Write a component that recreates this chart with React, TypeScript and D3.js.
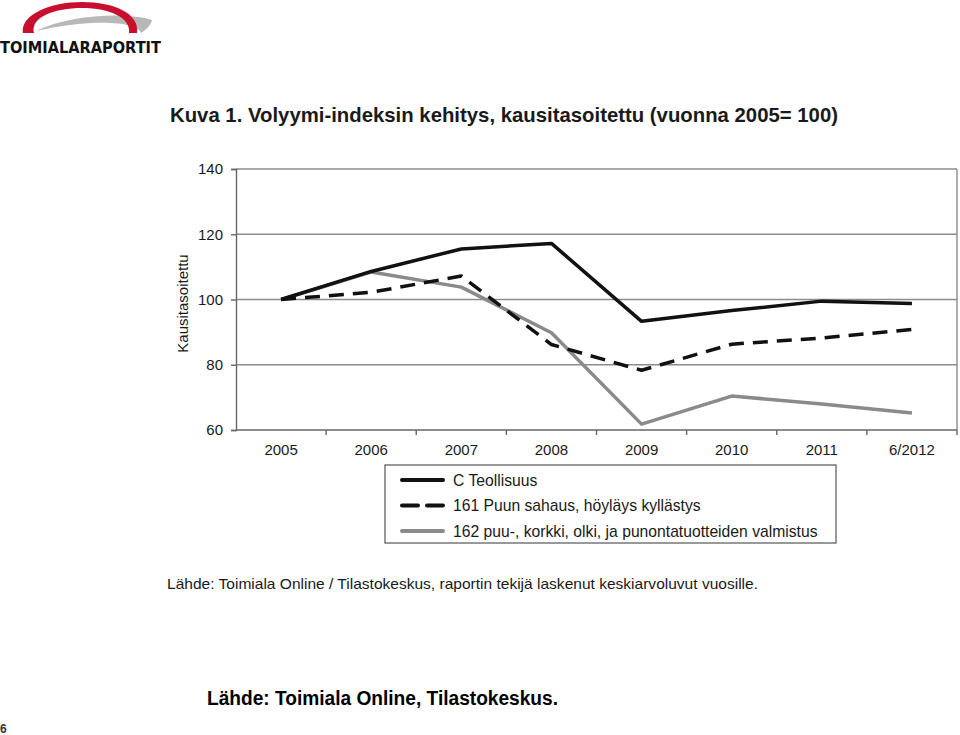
import { useRef, useEffect } from 'react'
import * as d3 from 'd3'

const years = ['2005', '2006', '2007', '2008', '2009', '2010', '2011', '6/2012']
const teollisuus = [100, 108.6, 115.5, 117.2, 93.3, 96.6, 99.5, 98.8]
const sahaus = [100, 102.2, 107.2, 86.2, 78.3, 86.3, 88.2, 90.8]
const puutuotteet = [100, 108.4, 103.8, 89.8, 61.8, 70.4, 68.0, 65.2]
const yTicks = [60, 80, 100, 120, 140]

const seriesNames = [
  'C Teollisuus',
  '161 Puun sahaus, höyläys kyllästys',
  '162 puu-, korkki, olki, ja punontatuotteiden valmistus',
]

const font = 'Arial, "Liberation Sans", sans-serif'

export default function App() {
  const ref = useRef<SVGSVGElement>(null)

  useEffect(() => {
    if (!ref.current) return
    const svg = d3.select(ref.current)
    svg.selectAll('*').remove()

    const plot = { left: 236, right: 957, top: 169, bottom: 430 }

    const x = d3.scaleBand().domain(years).range([plot.left, plot.right])
    const y = d3.scaleLinear().domain([60, 140]).range([plot.bottom, plot.top])

    // Logo
    const logo = svg.append('g')
    logo
      .append('path')
      .attr('d', 'M36,31 C70,14 128,12 152,20 C151,25 147,29 141,33 C138,22 95,18 36,31 Z')
      .attr('fill', '#b8b8b8')
    logo
      .append('path')
      .attr(
        'd',
        'M23,33 C20,15 50,2 82,2 C115,2 140,14 137,33 L129,33 C131,18 110,8 82,8 C55,8 30,17 34,33 Z'
      )
      .attr('fill', '#c8102e')
    logo
      .append('text')
      .attr('x', 0)
      .attr('y', 53)
      .attr('font-family', '"DejaVu Sans", sans-serif')
      .attr('font-weight', 'bold')
      .attr('font-size', 15)
      .attr('textLength', 161)
      .attr('lengthAdjust', 'spacingAndGlyphs')
      .attr('fill', '#111')
      .text('TOIMIALARAPORTIT')

    // Title
    svg
      .append('text')
      .attr('x', 170)
      .attr('y', 122)
      .attr('font-family', font)
      .attr('font-weight', 'bold')
      .attr('font-size', 21)
      .attr('textLength', 668)
      .attr('lengthAdjust', 'spacingAndGlyphs')
      .attr('fill', '#1a1a1a')
      .text('Kuva 1. Volyymi-indeksin kehitys, kausitasoitettu (vuonna 2005= 100)')

    // Gridlines
    svg
      .append('g')
      .selectAll('line')
      .data(yTicks.slice(1))
      .join('line')
      .attr('x1', plot.left)
      .attr('x2', plot.right)
      .attr('y1', (d) => y(d))
      .attr('y2', (d) => y(d))
      .attr('stroke', '#8c8c8c')
      .attr('stroke-width', 1.4)

    // Right border
    svg
      .append('line')
      .attr('x1', plot.right)
      .attr('x2', plot.right)
      .attr('y1', plot.top)
      .attr('y2', plot.bottom)
      .attr('stroke', '#8c8c8c')
      .attr('stroke-width', 1.4)

    // Y axis
    const yAxis = svg
      .append('g')
      .attr('transform', `translate(${plot.left},0)`)
      .call(d3.axisLeft(y).tickValues(yTicks).tickSize(5).tickPadding(8))
    yAxis.selectAll('path,line').attr('stroke', '#666').attr('stroke-width', 1.4)
    yAxis
      .selectAll('text')
      .attr('font-family', font)
      .attr('font-size', 15)
      .attr('fill', '#1a1a1a')

    // X axis
    const xAxis = svg.append('g').attr('transform', `translate(0,${plot.bottom})`)
    xAxis
      .append('line')
      .attr('x1', plot.left)
      .attr('x2', plot.right)
      .attr('stroke', '#666')
      .attr('stroke-width', 1.4)
    xAxis
      .selectAll('line.tick')
      .data(years.slice(1).concat(['end']))
      .join('line')
      .attr('class', 'tick')
      .attr('x1', (_d, i) => (i < years.length - 1 ? x(years[i + 1])! : plot.right))
      .attr('x2', (_d, i) => (i < years.length - 1 ? x(years[i + 1])! : plot.right))
      .attr('y1', 0)
      .attr('y2', 5)
      .attr('stroke', '#666')
      .attr('stroke-width', 1.4)
    xAxis
      .selectAll('text')
      .data(years)
      .join('text')
      .attr('x', (d) => x(d)! + x.bandwidth() / 2)
      .attr('y', 25)
      .attr('text-anchor', 'middle')
      .attr('font-family', font)
      .attr('font-size', 15)
      .attr('fill', '#1a1a1a')
      .text((d) => d)

    // Y label
    svg
      .append('text')
      .attr('transform', `translate(188,${(plot.top + plot.bottom) / 2 + 4}) rotate(-90)`)
      .attr('text-anchor', 'middle')
      .attr('font-family', font)
      .attr('font-size', 15)
      .attr('fill', '#1a1a1a')
      .text('Kausitasoitettu')

    // Lines
    const line = d3
      .line<number>()
      .x((_d, i) => x(years[i])! + x.bandwidth() / 2)
      .y((d) => y(d))

    const styles = [
      { color: '#111', dash: null as string | null, width: 3.5 },
      { color: '#111', dash: '15,9', width: 3.5 },
      { color: '#8a8a8a', dash: null as string | null, width: 3.5 },
    ]
    const data = [puutuotteet, sahaus, teollisuus]
    const styleOrder = [2, 1, 0]
    data.forEach((series, k) => {
      const s = styles[styleOrder[k]]
      svg
        .append('path')
        .datum(series)
        .attr('d', line)
        .attr('fill', 'none')
        .attr('stroke', s.color)
        .attr('stroke-width', s.width)
        .attr('stroke-dasharray', s.dash)
        .attr('stroke-linejoin', 'round')
    })

    // Legend
    const legend = svg.append('g')
    legend
      .append('rect')
      .attr('x', 385)
      .attr('y', 465)
      .attr('width', 451)
      .attr('height', 78)
      .attr('fill', 'none')
      .attr('stroke', '#555')
      .attr('stroke-width', 1.2)
    seriesNames.forEach((name, i) => {
      const s = styles[i]
      const ly = 480 + i * 25.5
      legend
        .append('line')
        .attr('x1', 402)
        .attr('x2', 443)
        .attr('y1', ly)
        .attr('y2', ly)
        .attr('stroke', s.color)
        .attr('stroke-width', s.width + 0.5)
        .attr('stroke-dasharray', s.dash ? '16,9' : null)
        .attr('stroke-linecap', 'round')
      legend
        .append('text')
        .attr('x', 453)
        .attr('y', ly + 5.5)
        .attr('font-family', font)
        .attr('font-size', 15.7)
        .attr('fill', '#1a1a1a')
        .text(name)
    })

    // Source lines
    svg
      .append('text')
      .attr('x', 167)
      .attr('y', 589)
      .attr('font-family', font)
      .attr('font-size', 14.5)
      .attr('textLength', 591)
      .attr('lengthAdjust', 'spacingAndGlyphs')
      .attr('fill', '#1a1a1a')
      .text('Lähde: Toimiala Online / Tilastokeskus, raportin tekijä laskenut keskiarvoluvut vuosille.')

    svg
      .append('text')
      .attr('x', 207)
      .attr('y', 705)
      .attr('font-family', font)
      .attr('font-weight', 'bold')
      .attr('font-size', 20)
      .attr('textLength', 351)
      .attr('lengthAdjust', 'spacingAndGlyphs')
      .attr('fill', '#000')
      .text('Lähde: Toimiala Online, Tilastokeskus.')

    svg
      .append('text')
      .attr('x', 0)
      .attr('y', 733)
      .attr('font-family', font)
      .attr('font-weight', 'bold')
      .attr('font-size', 12)
      .attr('fill', '#333')
      .text('6')
  }, [])

  return (
    <svg
      ref={ref}
      width={960}
      height={735}
      style={{ position: 'absolute', left: 0, top: 0, background: '#fff' }}
    />
  )
}
